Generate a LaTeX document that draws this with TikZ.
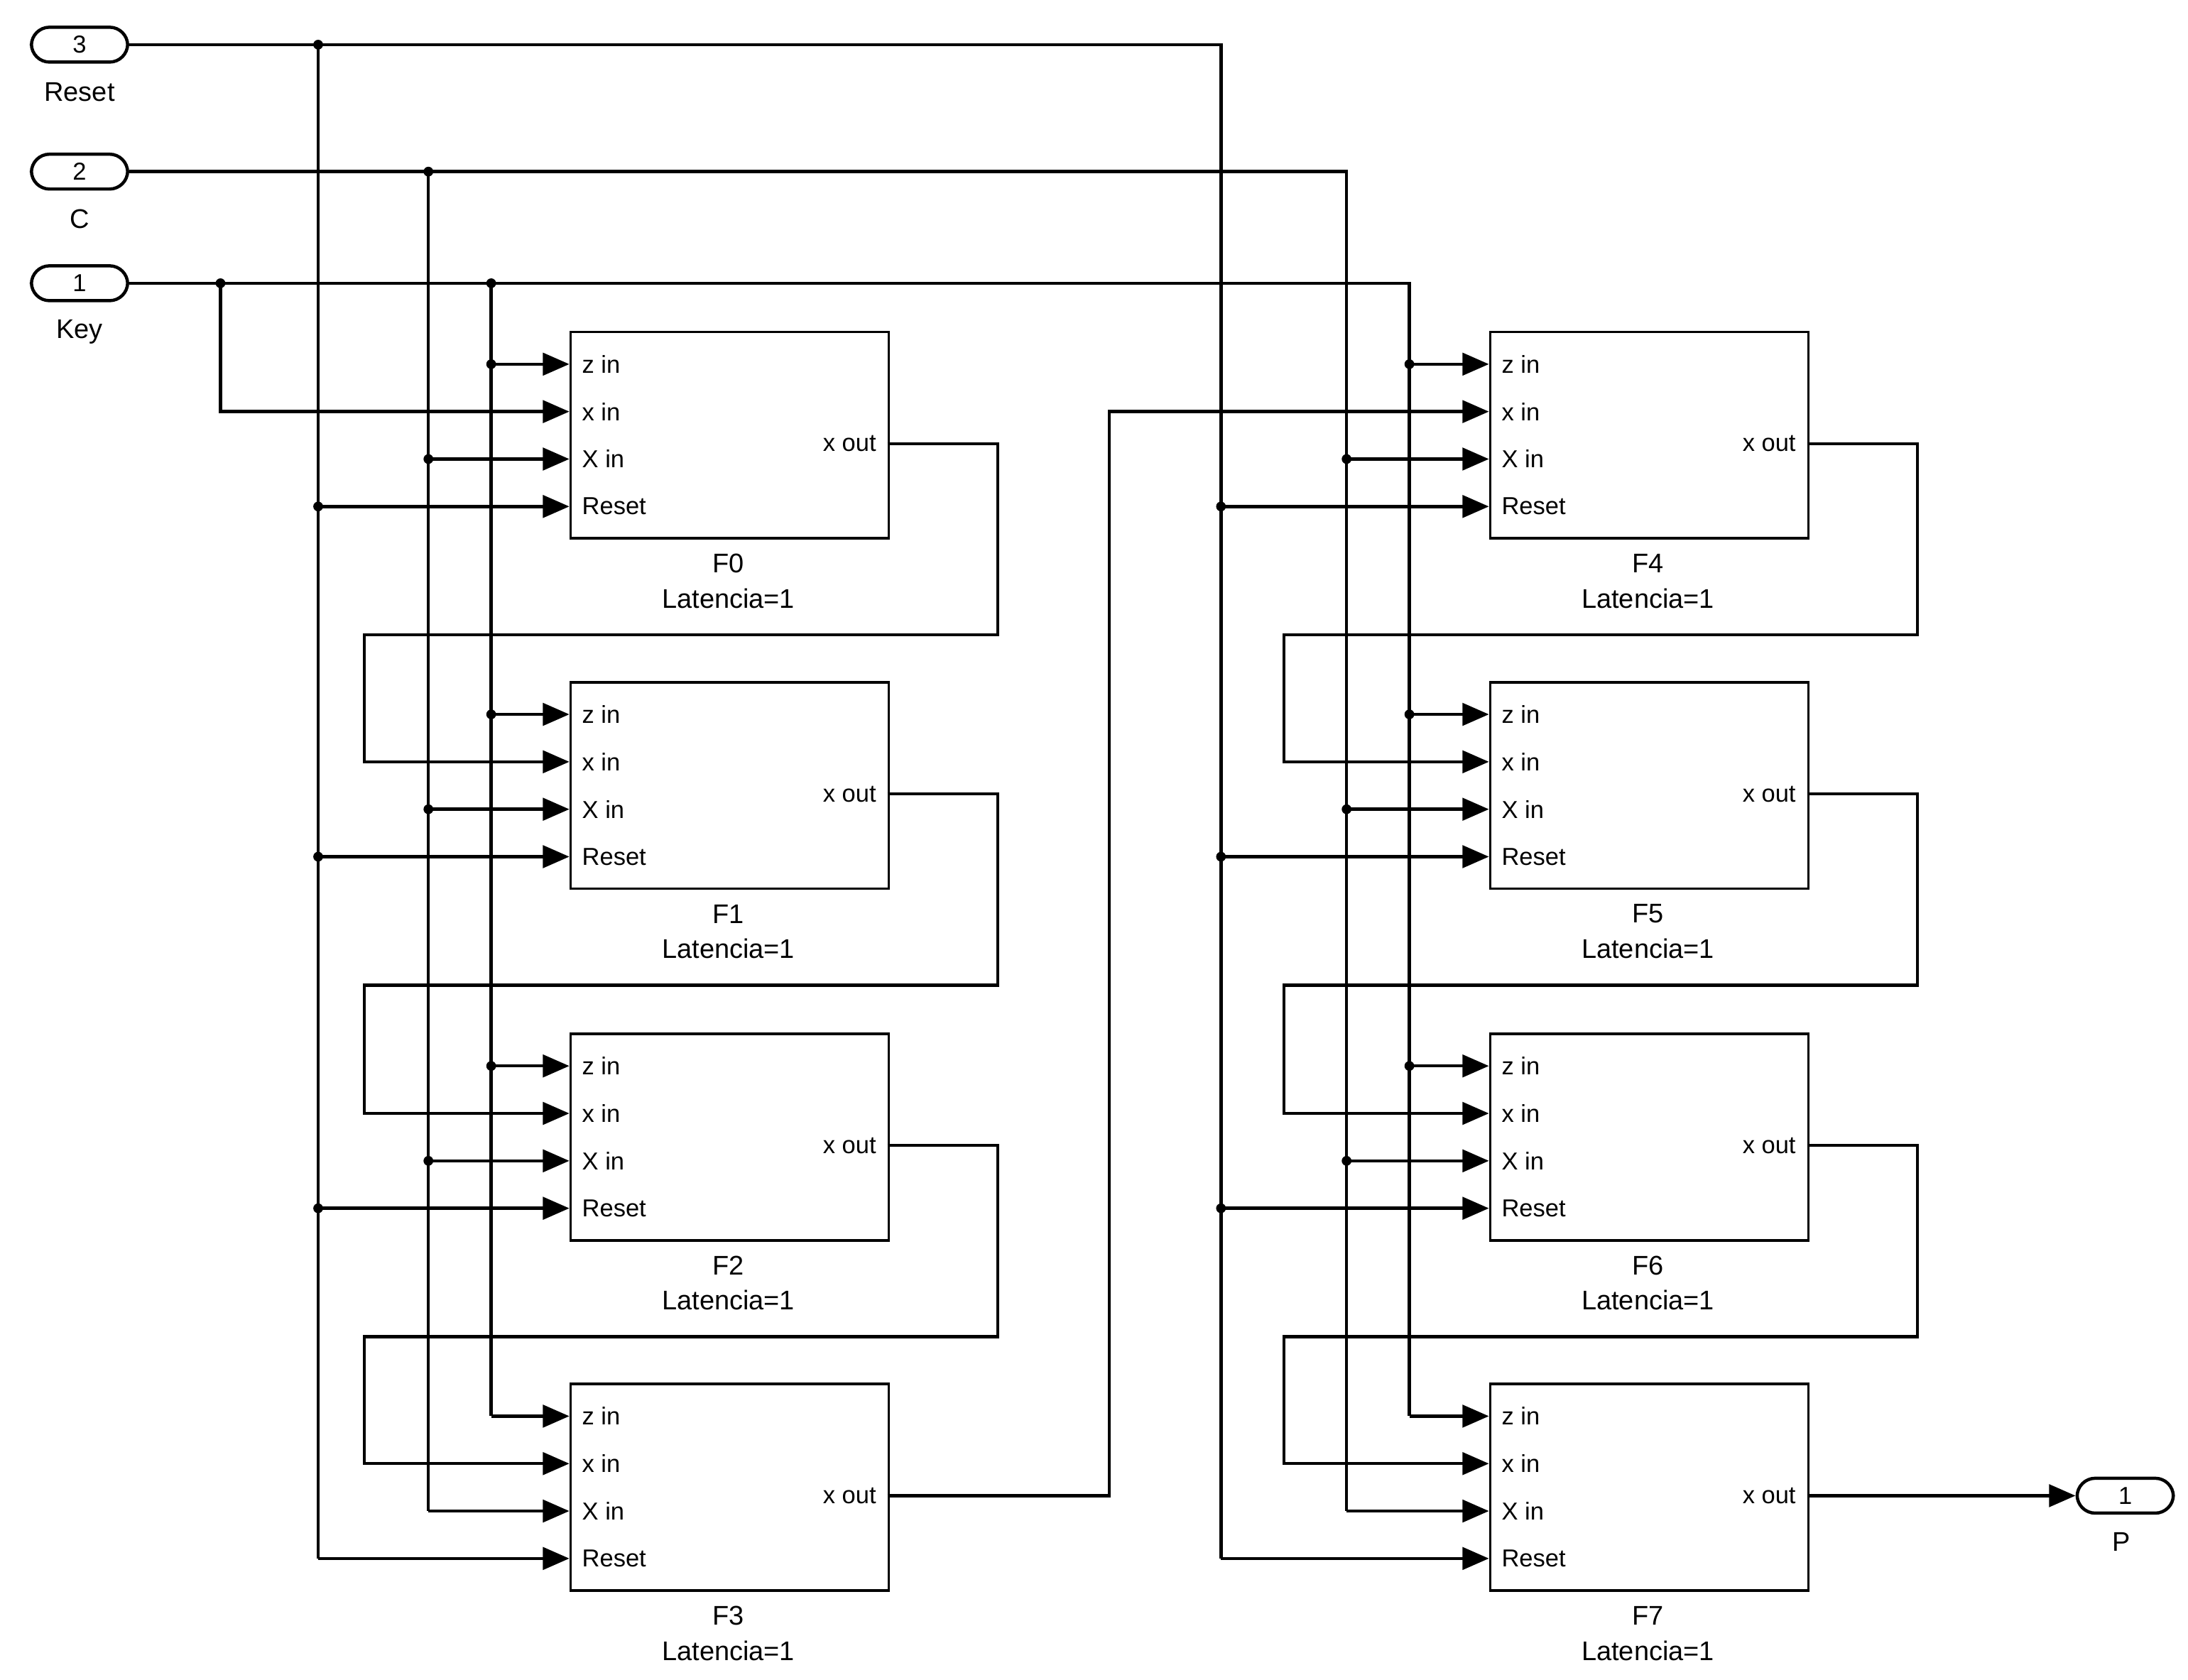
\documentclass[tikz,border=0pt]{standalone}
\usepackage{fontspec}
\setmainfont{Liberation Sans}
\usetikzlibrary{arrows.meta}
\begin{document}
\begin{tikzpicture}[x=0.02cm,y=-0.02cm,line width=1.3pt,
  arr/.style={-{Triangle[length=0.38cm,width=0.32cm]}},
  port/.style={draw,rounded corners=0.26cm,minimum width=1.38cm,minimum height=0.5cm,inner sep=0pt,font=\fontsize{10}{12}\selectfont},
  blk/.style={draw,line width=1.1pt,minimum width=4.56cm,minimum height=2.96cm,inner sep=0pt},
  plbl/.style={font=\fontsize{10}{12}\selectfont,inner sep=0pt},
  lbl/.style={font=\fontsize{11}{13}\selectfont,inner sep=0pt},
  dot/.style={fill,circle,inner sep=0pt,minimum size=0.14cm}]
\useasboundingbox (0,0) rectangle (1568,1204);
% inports
\node[port] (inR) at (57,32) {3}; \node[lbl] (lR) at (57,66) {Reset};
\node[port] (inC) at (57,123) {2}; \node[lbl] (lC) at (57,157) {C};
\node[port] (inK) at (57,203) {1}; \node[lbl] (lK) at (57,238) {Key};
\node[port] (outP) at (1523,1072) {1}; \node[lbl] (lP) at (1520,1105) {P};
% blocks
\foreach \c/\bx in {0/408,1/1067}{
 \foreach \r/\by in {0/237,1/488,2/740,3/991}{
  \pgfmathtruncatemacro{\n}{4*\c+\r}
  \node[blk,anchor=north west] (F\n) at (\bx,\by) {};
  \coordinate (F\n z) at (\bx,\by+24);
  \coordinate (F\n x) at (\bx,\by+58);
  \coordinate (F\n X) at (\bx,\by+92);
  \coordinate (F\n r) at (\bx,\by+126);
  \coordinate (F\n o) at (\bx+228,\by+81);
  \node[plbl,anchor=west] at (\bx+8,\by+24) {z in};
  \node[plbl,anchor=west] at (\bx+8,\by+58) {x in};
  \node[plbl,anchor=west] at (\bx+8,\by+92) {X in};
  \node[plbl,anchor=west] at (\bx+8,\by+126) {Reset};
  \node[plbl,anchor=east] at (\bx+221,\by+81) {x out};
  \node[lbl] at (\bx+114,\by+167) {F\n};
  \node[lbl] at (\bx+114,\by+192) {Latencia=1};
 }}
% trunks
\draw (inR.east) -- (875,32) -- (875,1117);
\draw (inC.east) -- (965,123) -- (965,1083);
\draw (inK.east) -- (1010,203) -- (1010,1015);
\draw (228,32) -- (228,1117);
\draw (307,123) -- (307,1083);
\draw (352,203) -- (352,1015);
\draw[arr] (158,203) |- (F0x);
\foreach \p in {(228,32),(307,123),(158,203),(352,203)} \node[dot] at \p {};
% bus arrows
\foreach \r/\by in {0/237,1/488,2/740,3/991}{
  \pgfmathtruncatemacro{\m}{\r+4}
  \draw[arr] (352,\by+24) -- (F\r z);
  \draw[arr] (307,\by+92) -- (F\r X);
  \draw[arr] (228,\by+126) -- (F\r r);
  \draw[arr] (1010,\by+24) -- (F\m z);
  \draw[arr] (965,\by+92) -- (F\m X);
  \draw[arr] (875,\by+126) -- (F\m r);
}
\foreach \by in {237,488,740}{
  \foreach \xx/\dd in {352/24,307/92,228/126,1010/24,965/92,875/126}
    \node[dot] at (\xx,\by+\dd) {};
}
% feedback
\foreach \a/\b/\by in {0/1/237,1/2/488,2/3/740}{
  \pgfmathtruncatemacro{\aa}{\a+4}\pgfmathtruncatemacro{\bb}{\b+4}
  \draw[arr] (F\a o) -- (715,\by+81) |- (261,\by+218) |- (F\b x);
  \draw[arr] (F\aa o) -- (1374,\by+81) |- (920,\by+218) |- (F\bb x);
}
\draw[arr] (F3o) -| (795,295) -- (F4x);
\draw[arr] (F7o) -- (outP.west);
\end{tikzpicture}
\end{document}
